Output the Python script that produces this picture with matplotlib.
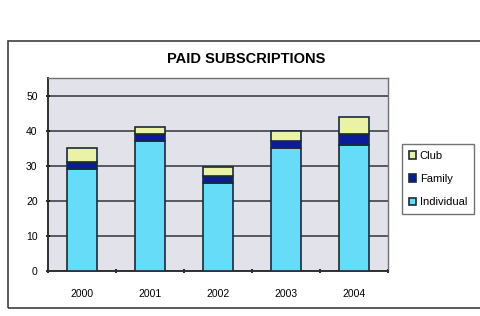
import numpy as np
import matplotlib.pyplot as plt
from matplotlib.patches import Rectangle

years = ["2000", "2001", "2002", "2003", "2004"]
individual = [29, 37, 25, 35, 36]
family = [2, 2, 2, 2, 3]
club = [4, 2, 2.5, 3, 5]

plt.rcParams["font.family"] = ["Liberation Sans", "DejaVu Sans"]

fig = plt.figure(figsize=(4.81, 3.16), dpi=100)
W, H = 481, 316

# outer chart frame
fig.patches.append(Rectangle((8 / W, 1 - 308 / H), 1.0, (308 - 41) / H,
                             transform=fig.transFigure, fill=False,
                             edgecolor="#404040", linewidth=1.2))

ax = fig.add_axes([48 / W, 1 - 271 / H, (388 - 48) / W, (271 - 78) / H])
ax.set_facecolor("#e2e2ea")

x = np.arange(len(years))
w = 0.44
ind = np.array(individual)
fam = np.array(family)
clb = np.array(club)
ax.bar(x, ind, w, color="#66dcf8", edgecolor="#1a2a3a", linewidth=1.2,
       label="Individual", zorder=3)
ax.bar(x, fam, w, bottom=ind, color="#0c1a9c", edgecolor="#1a2a3a",
       linewidth=1.2, label="Family", zorder=3)
ax.bar(x, clb, w, bottom=ind + fam, color="#eaf2a6", edgecolor="#1a2a3a",
       linewidth=1.2, label="Club", zorder=3)

ax.set_xlim(-0.5, 4.5)
ax.set_ylim(0, 55)
ax.set_yticks(range(0, 51, 10))
ax.yaxis.grid(True, color="#404048", linewidth=1.2, zorder=1)
ax.set_xticks(x)
ax.set_xticklabels(years)
ax.set_xticks(np.arange(-0.5, 5, 1), minor=True)
ax.tick_params(axis="x", which="major", length=0, labelsize=7.5, pad=13)
ax.tick_params(axis="x", which="minor", length=3, width=1.2, direction="inout")
ax.tick_params(axis="y", labelsize=7.5, length=3, width=1.2,
               direction="inout", pad=6)
for s in ["left", "bottom"]:
    ax.spines[s].set_color("#303030")
    ax.spines[s].set_linewidth(1.4)
for s in ["top", "right"]:
    ax.spines[s].set_color("#707070")
    ax.spines[s].set_linewidth(1.0)

fig.text(246 / W, 1 - 59 / H, "PAID SUBSCRIPTIONS", ha="center", va="center",
         fontsize=10.5, fontweight="bold")

h, l = ax.get_legend_handles_labels()
leg = fig.legend(h[::-1], l[::-1], loc="upper left",
                 bbox_to_anchor=(402 / W, 1 - 144 / H), fontsize=8,
                 frameon=True, fancybox=False, handlelength=0.7,
                 handleheight=0.7, handletextpad=0.3, borderpad=0.6,
                 labelspacing=1.2, borderaxespad=0)
leg.get_frame().set_edgecolor("#505050")
leg.get_frame().set_linewidth(1.0)

fig.savefig("out.png", dpi=100)
